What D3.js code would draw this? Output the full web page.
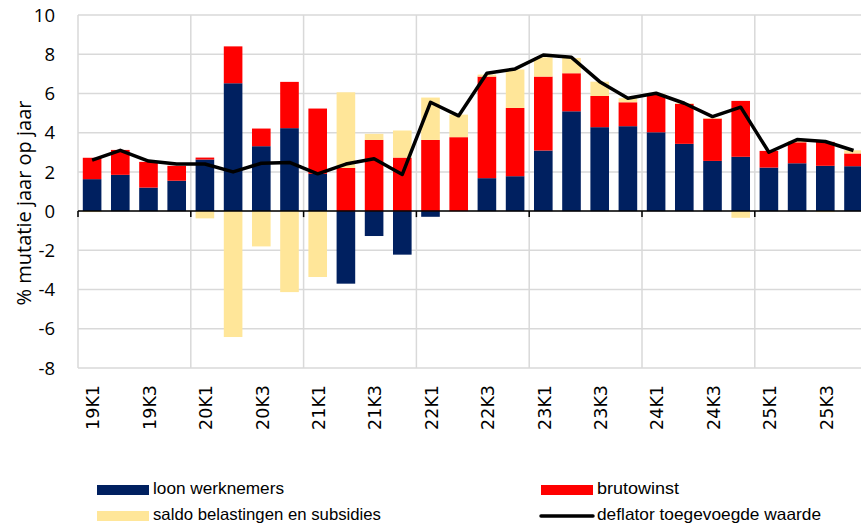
<!DOCTYPE html>
<html><head><meta charset="utf-8">
<script src="https://cdn.jsdelivr.net/npm/d3@7"></script>
<style>body{margin:0;background:#fff;overflow:hidden}svg{display:block}</style>
</head><body>
<script>
const categories = ["19K1","19K2","19K3","19K4","20K1","20K2","20K3","20K4","21K1","21K2","21K3","21K4","22K1","22K2","22K3","22K4","23K1","23K2","23K3","23K4","24K1","24K2","24K3","24K4","25K1","25K2","25K3","25K4"];
const loonWerknemers = [1.63,1.85,1.2,1.55,2.63,6.52,3.31,4.23,1.9,-3.7,-1.27,-2.22,-0.29,0,1.68,1.78,3.09,5.09,4.28,4.33,4.02,3.43,2.56,2.77,2.22,2.44,2.31,2.29];
const brutowinst = [1.09,1.27,1.31,0.76,0.1,1.88,0.9,2.36,3.33,2.2,3.63,2.73,3.63,3.77,5.18,3.48,3.77,1.94,1.59,1.22,1.91,2.04,2.16,2.85,0.85,1.07,1.22,0.65];
const saldoBelastingen = [-0.05,0,0,0,-0.37,-6.42,-1.8,-4.13,-3.36,3.86,0.31,1.38,2.16,1.15,0.1,1.96,0.98,0.78,0.73,0.21,0.05,0.03,0.03,-0.34,0,0.07,-0.05,0.16];
const deflator = [2.6,3.1,2.55,2.4,2.4,2.0,2.44,2.48,1.9,2.4,2.67,1.87,5.55,4.86,7.03,7.25,7.96,7.84,6.6,5.76,6.01,5.5,4.82,5.3,3.0,3.65,3.55,3.09];
const yTicks = [-8,-6,-4,-2,0,2,4,6,8,10];
const seriesNames = ["loon werknemers","brutowinst","saldo belastingen en subsidies","deflator toegevoegde waarde"];
const colors = ["#002060","#FF0000","#FFE699","#000000"];

const W = 861, H = 525;
const svg = d3.select("body").append("svg").attr("width", W).attr("height", H);
const pL = 78, pR = 867.6, pT = 15, pB = 368;
const x = d3.scaleBand().domain(categories).range([pL, pR]).paddingInner(0.34).paddingOuter(0.17);
const step = x.step();
const y = d3.scaleLinear().domain([-8, 10]).range([pB, pT]);

// gridlines
const g = svg.append("g");
g.selectAll(".hg").data(yTicks).join("line")
  .attr("x1", pL).attr("x2", W + 10).attr("y1", d => y(d)).attr("y2", d => y(d))
  .attr("stroke", "#d9d9d9").attr("stroke-width", 1.5);
const vIdx = categories.map((c,i)=>i).filter(i => i % 4 === 0);
g.selectAll(".vg").data(vIdx).join("line")
  .attr("x1", i => x(categories[i]) - step*0.17).attr("x2", i => x(categories[i]) - step*0.17)
  .attr("y1", pT).attr("y2", pB)
  .attr("stroke", "#d9d9d9").attr("stroke-width", 1.5);

// stacked bars
const rows = categories.map((c,i) => ({cat:c, a:loonWerknemers[i], b:brutowinst[i], c2:saldoBelastingen[i]}));
const stack = d3.stack().keys(["a","b","c2"]).offset(d3.stackOffsetDiverging);
const stacked = stack(rows);
stacked.forEach((s, si) => {
  svg.append("g").selectAll("rect").data(s).join("rect")
    .attr("x", d => x(d.data.cat)).attr("width", x.bandwidth())
    .attr("y", d => y(Math.max(d[0], d[1])))
    .attr("height", d => Math.abs(y(d[0]) - y(d[1])))
    .attr("fill", colors[si]);
});

// zero axis
svg.append("line").attr("x1", pL).attr("x2", W + 10).attr("y1", y(0)).attr("y2", y(0))
  .attr("stroke", "#000").attr("stroke-width", 1.5);
svg.selectAll(".tk").data(vIdx).join("line")
  .attr("x1", i => x(categories[i]) - step*0.17).attr("x2", i => x(categories[i]) - step*0.17)
  .attr("y1", y(0)).attr("y2", y(0) + 6).attr("stroke", "#000").attr("stroke-width", 1.5);

// line
const line = d3.line().x((d,i) => x(categories[i]) + x.bandwidth()/2).y(d => y(d));
svg.append("path").datum(deflator).attr("d", line).attr("fill", "none")
  .attr("stroke", "#000").attr("stroke-width", 3.5).attr("stroke-linejoin", "round");

// y tick labels
svg.selectAll(".yl").data(yTicks).join("text")
  .attr("x", 55).attr("y", d => y(d)).attr("dy", "0.36em").attr("text-anchor", "end")
  .attr("font-family", "Open Sans, sans-serif").attr("font-size", 18.5).attr("fill", "#000")
  .text(d => d);

// y title
svg.append("text").attr("transform", "translate(24,203) rotate(-90)")
  .attr("text-anchor", "middle").attr("dy", "0.35em").attr("font-family", "Open Sans, sans-serif").attr("font-size", 20)
  .attr("fill", "#000").text("% mutatie jaar op jaar");

// x labels
const xl = categories.filter((c,i) => i % 2 === 0);
svg.selectAll(".xl").data(xl).join("text")
  .attr("transform", d => `translate(${x(d) + x.bandwidth()/2 + 1},385) rotate(-90)`)
  .attr("text-anchor", "end").attr("dy", "0.36em")
  .attr("font-family", "DejaVu Sans, sans-serif").attr("font-size", 17.5).attr("fill", "#000")
  .text(d => d);

// legend
const lf = "Liberation Sans Narrow, Liberation Sans, sans-serif";
const leg = [
  {i:0, sx:97, ty:489, tl:131},
  {i:1, sx:541, ty:489, tl:82},
  {i:2, sx:97, ty:515, tl:228},
  {i:3, sx:541, ty:515, tl:224}
];
leg.forEach(d => {
  if (d.i === 3) {
    svg.append("line").attr("x1", d.sx).attr("x2", d.sx + 52).attr("y1", d.ty + 1).attr("y2", d.ty + 1)
      .attr("stroke", "#000").attr("stroke-width", 3.5).attr("stroke-linecap", "round");
  } else {
    svg.append("rect").attr("x", d.sx).attr("y", d.ty - 4).attr("width", 52).attr("height", 10)
      .attr("fill", colors[d.i]);
  }
  svg.append("text").attr("x", d.sx + 56).attr("y", d.ty + 5)
    .attr("font-family", lf).attr("font-size", 16.5).attr("fill", "#000")
    .attr("textLength", d.tl).attr("lengthAdjust", "spacingAndGlyphs")
    .text(seriesNames[d.i]);
});
</script>
</body></html>
